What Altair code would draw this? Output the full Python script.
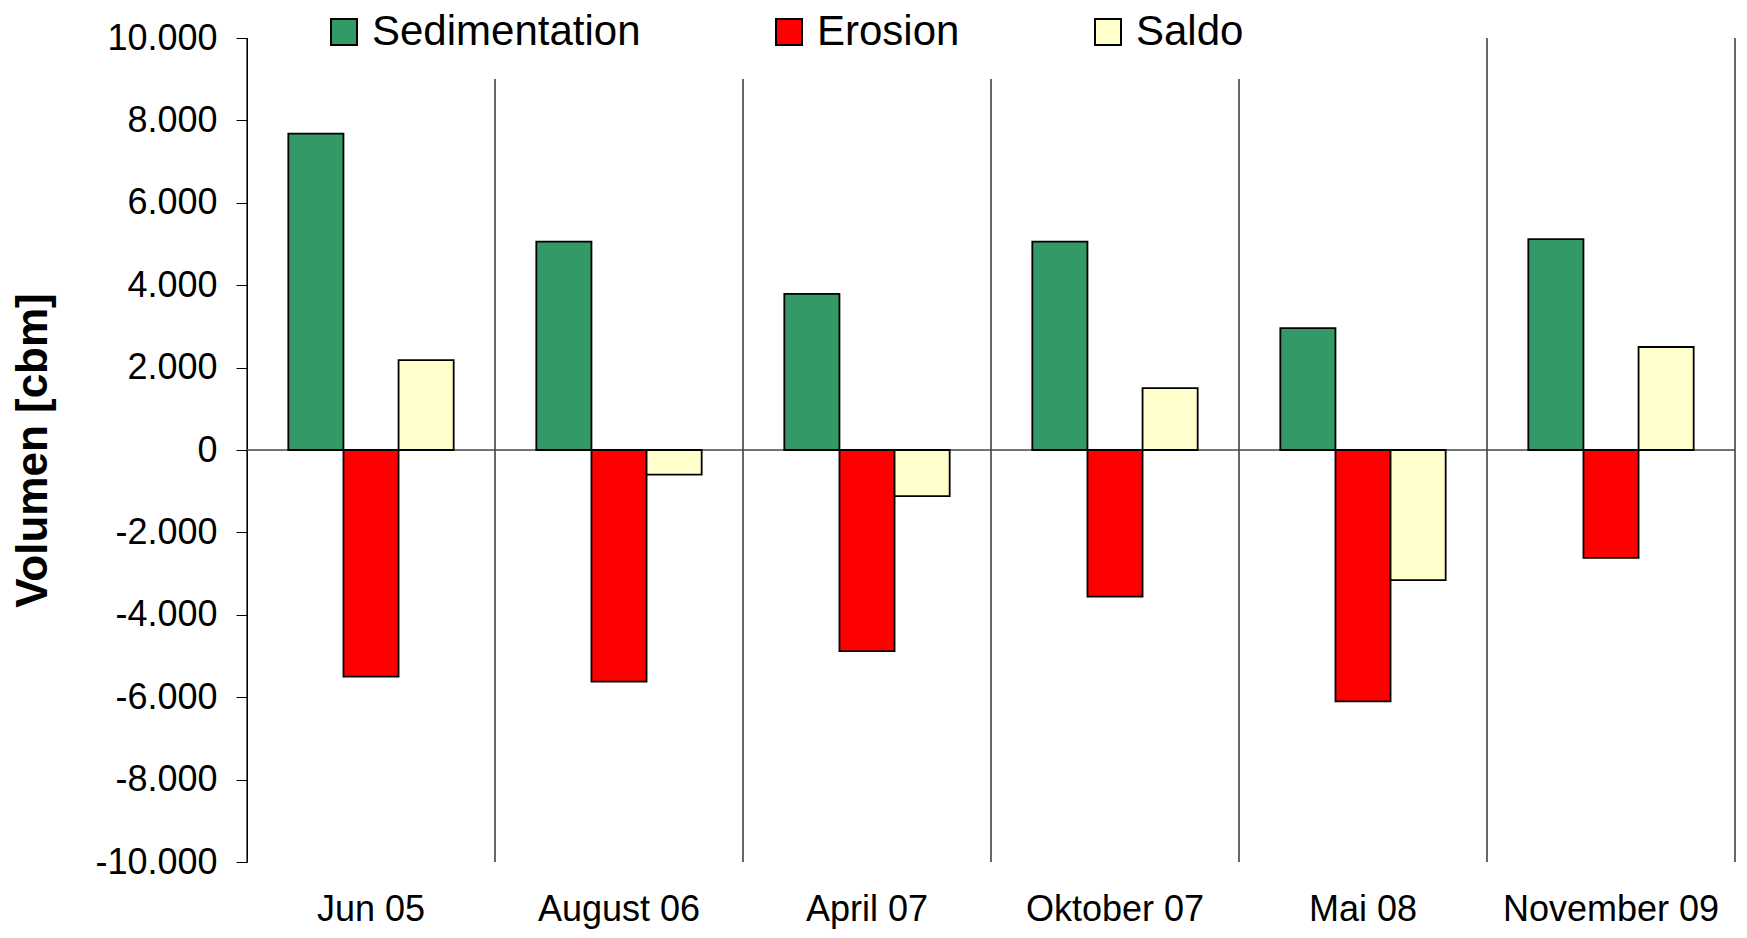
import altair as alt
import pandas as pd

categories = ["Jun 05", "August 06", "April 07", "Oktober 07", "Mai 08", "November 09"]
series = ["Sedimentation", "Erosion", "Saldo"]
sedimentation = [7680, 5060, 3790, 5060, 2960, 5120]
erosion = [-5500, -5620, -4880, -3560, -6100, -2620]
saldo = [2180, -600, -1120, 1500, -3160, 2500]
colors = ["#339966", "#FF0000", "#FFFFCC"]
y_ticks = [-10000, -8000, -6000, -4000, -2000, 0, 2000, 4000, 6000, 8000, 10000]

rows = []
for i, c in enumerate(categories):
    for s, vals in zip(series, [sedimentation, erosion, saldo]):
        rows.append({"Datum": c, "Serie": s, "Wert": vals[i]})
df = pd.DataFrame(rows)

FONT = "Liberation Sans"
W, H = 1488, 824

x_scale = alt.Scale(domain=categories, paddingInner=0, paddingOuter=0)
y_scale = alt.Scale(domain=[-10000, 10000], nice=False, zero=False)

label_expr = "(datum.value < 0 ? '-' : '') + replace(format(abs(datum.value), ','), ',', '.')"

x_axis = alt.Axis(title=None, domain=False, ticks=False, tickSize=0,
                  labelFont=FONT, labelFontSize=36, labelColor="black",
                  labelAngle=0, labelAlign="center", labelPadding=47,
                  labelBaseline="middle", labelLimit=0, grid=False)

y_axis = alt.Axis(title="Volumen [cbm]", values=y_ticks, labelExpr=label_expr,
                  labelFont=FONT, labelFontSize=36, labelColor="black",
                  labelPadding=19, tickSize=11, tickColor="black", tickWidth=1,
                  domainColor="black", domainWidth=1, grid=False,
                  titleFont=FONT, titleFontSize=44, titleFontWeight="bold",
                  titleColor="black", titleX=-214, titleY=H / 2,
                  titleAngle=-90, titleAlign="center", titleBaseline="middle")

bars = alt.Chart(df).mark_bar(stroke="black", strokeWidth=1.8).encode(
    x=alt.X("Datum:N", scale=x_scale, sort=categories, axis=x_axis),
    xOffset=alt.XOffset("Serie:N", sort=series,
                        scale=alt.Scale(domain=series, paddingInner=0, paddingOuter=0.75)),
    y=alt.Y("Wert:Q", scale=y_scale, axis=y_axis),
    color=alt.Color("Serie:N", sort=series,
                    scale=alt.Scale(domain=series, range=colors),
                    legend=alt.Legend(title=None, orient="none", direction="horizontal",
                                      legendX=51, legendY=-52, padding=25,
                                      fillColor="white", strokeColor="white",
                                      symbolType="square", symbolSize=676,
                                      symbolStrokeColor="black", symbolStrokeWidth=2,
                                      symbolOpacity=1, labelLimit=0,
                                      labelFont=FONT, labelFontSize=42, labelColor="black",
                                      labelOffset=7, columnPadding=127)),
)

zero_line = alt.Chart(pd.DataFrame({"v": [0]})).mark_rule(color="#444444", strokeWidth=1.5).encode(
    y=alt.Y("v:Q", scale=y_scale, axis=y_axis)
)

separators = alt.Chart(pd.DataFrame({"Datum": categories})).mark_rule(color="black", strokeWidth=1.2).encode(
    x=alt.X("Datum:N", scale=x_scale, sort=categories, bandPosition=0, axis=x_axis)
)

edge = alt.Chart(pd.DataFrame({"Datum": [categories[-1]]})).mark_rule(color="black", strokeWidth=1.2).encode(
    x=alt.X("Datum:N", scale=x_scale, sort=categories, bandPosition=1, axis=x_axis)
)

chart = alt.layer(separators, edge, zero_line, bars).properties(
    width=W, height=H,
    background="white",
    autosize=alt.AutoSizeParams(type="none"),
    padding={"left": 239, "top": 30, "right": 4, "bottom": 68},
).configure_view(stroke=None)

chart.save("out.html", embed_options={"renderer": "svg", "actions": False})
